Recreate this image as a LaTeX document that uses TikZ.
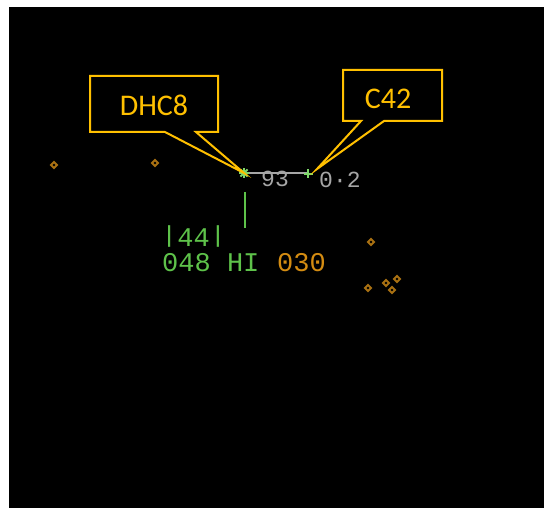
\documentclass[tikz,border=0pt]{standalone}
\usepackage{fontspec}
\newfontfamily\callfont{Carlito}
\newfontfamily\radfont{Liberation Mono}
\definecolor{callgold}{HTML}{FFC000}
\definecolor{radgreen}{HTML}{5EC24A}
\definecolor{stargreen}{HTML}{7ED86A}
\definecolor{radgray}{HTML}{A6A6A6}
\definecolor{radorange}{HTML}{D48C12}
\definecolor{dotorange}{HTML}{A87012}
\newcommand{\shortbar}{\raisebox{0.18em}{\scalebox{1}[0.86]{|}}}
\tikzset{
  callbox/.style={draw=callgold, line width=2pt, fill=black, line join=miter},
  calltext/.style={text=callgold, font=\callfont\fontsize{30}{32}\selectfont, inner sep=0pt},
  datatext/.style={font=\radfont\fontsize{27}{28}\selectfont, inner sep=0pt, anchor=base west, text height=18pt, text depth=0pt},
  graytext/.style={text=radgray, font=\radfont\fontsize{23}{24}\selectfont, inner sep=0pt, anchor=base west},
  wxdot/.style={draw=dotorange, line width=1.8pt, fill=black}
}
\begin{document}
\begin{tikzpicture}[x=1pt,y=-1pt]
\useasboundingbox (0,0) rectangle (544,508);
\fill[white] (0,0) rectangle (544,508);
\fill[black] (9,7) rectangle (544,508);

% weather dots
\foreach \p/\q in {54/165,155/163,371/242,368/288,386/283,392/290,397/279}
  \draw[wxdot] (\p-3,\q) -- (\p,\q-3) -- (\p+3,\q) -- (\p,\q+3) -- cycle;

% targets
\coordinate (dhc) at (244,173);
\coordinate (cft) at (308,174);
\draw[radgray, line width=2pt] (dhc) -- (cft |- dhc);
\foreach \a in {0,45,90,135}
  \draw[stargreen, line width=1.8pt] (dhc) ++(\a:5) -- ++(\a+180:10);
\draw[stargreen, line width=1.8pt] (cft) ++(-4.5,0) -- ++(9,0) (cft) ++(0,-4.5) -- ++(0,9);

% leader line
\coordinate (lt) at (245,192);
\coordinate (lb) at (245,228);
\draw[radgreen, line width=2.4pt] (lt) -- (lb);

% texts
\node[graytext] (t93) at (261,187) {93};
\node[graytext] (tsep) at (319,188) {0·2};
\node[datatext, text=radgreen] (tsq) at (161,247) {\shortbar44\shortbar};
\node[datatext, text=radgreen] (talt) at (162,271) {048 HI};
\node[datatext, text=radorange] (tspd) at (277,271) {030};

% callouts
\draw[callbox] (90,76) -- (218,76) -- (218,132) -- (196,132) -- (dhc) -- (165,132) -- (90,132) -- cycle;
\node[calltext] (lbl1) at (154,105) {DHC8};
\coordinate (ctip) at (317,169);
\draw[callbox] (343,70) -- (442,70) -- (442,121) -- (384,121) -- (ctip) -- (361,121) -- (343,121) -- cycle;
\node[calltext] (lbl2) at (388,99) {C42};
\end{tikzpicture}
\end{document}
